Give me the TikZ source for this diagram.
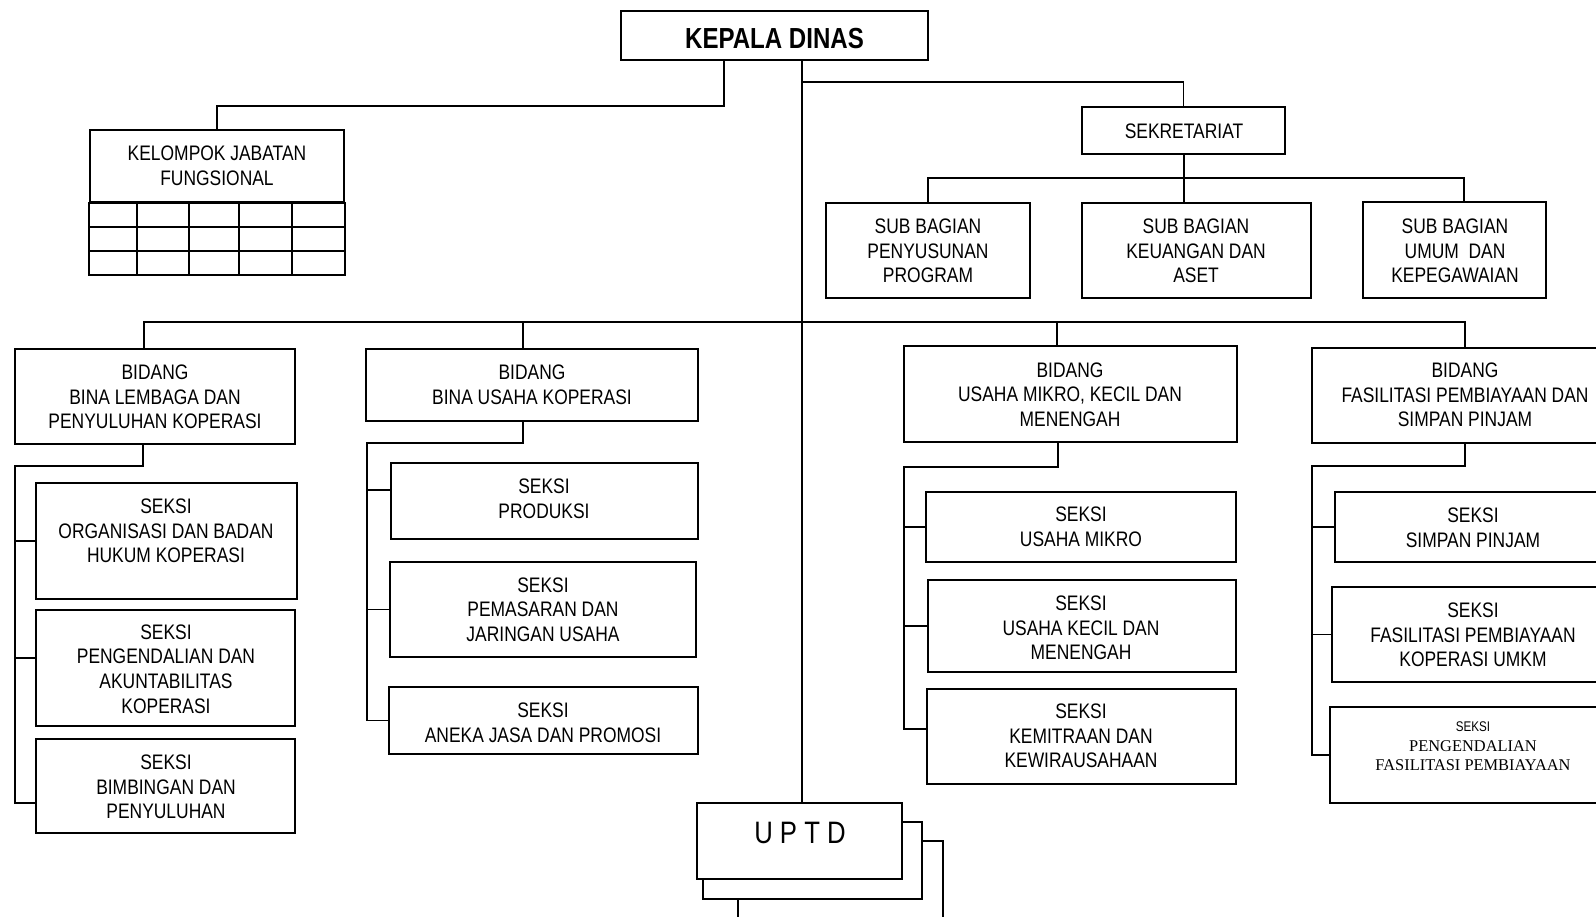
\documentclass[tikz,border=0pt]{standalone}
\usepackage{fontspec}
\setmainfont{Liberation Sans}[FakeStretch=0.83]
\newfontfamily\serfont{Liberation Serif}
% box given by its corners (x1,y1)-(x2,y2), y measured downwards
\newcommand\orgbox[5]{\node[box, minimum width={(#4-#2)*1pt}, minimum height={(#5-#3)*1pt}] (#1) at ({(#2+#4)/2},{(#3+#5)/2}) {};}
% text block centred at (x,y)
\newcommand\orgtext[4]{\node[lab] (#1) at (#2,#3) {#4};}
\begin{document}
\begin{tikzpicture}[x=1pt,y=-1pt,
  box/.style={draw, line width=1.8pt, fill=white, inner sep=0pt, rectangle},
  lab/.style={align=center, inner sep=0pt, font=\fontsize{21}{24.6}\selectfont},
  wire/.style={line width=1.8pt}]
\useasboundingbox (0,0) rectangle (1596,917);
\fill[white] (0,0) rectangle (1596,917);
\clip (0,0) rectangle (1596,917);

% ---------- boxes ----------
\orgbox{kd}{621}{11}{928}{60}
\orgbox{kjf}{90}{130}{344}{202}
\orgbox{sek}{1082}{107}{1285}{154}
\orgbox{sb1}{826}{203}{1030}{298}
\orgbox{sb2}{1082}{203}{1311}{298}
\orgbox{sb3}{1363}{202}{1546}{298}
\orgbox{b1}{15}{349}{295}{444}
\orgbox{b2}{366}{349}{698}{421}
\orgbox{b3}{904}{346}{1237}{442}
\orgbox{b4}{1312}{348}{1618}{443}
\orgbox{s11}{36}{483}{297}{599}
\orgbox{s12}{36}{610}{295}{726}
\orgbox{s13}{36}{739}{295}{833}
\orgbox{s21}{391}{463}{698}{539}
\orgbox{s22}{390}{562}{696}{657}
\orgbox{s23}{389}{687}{698}{754}
\orgbox{s31}{926}{492}{1236}{562}
\orgbox{s32}{928}{580}{1236}{672}
\orgbox{s33}{927}{689}{1236}{784}
\orgbox{s41}{1335}{492}{1614}{562}
\orgbox{s42}{1332}{587}{1614}{682}
\orgbox{s43}{1330}{707}{1614}{803}
% stacked UPTD boxes, back to front
\orgbox{up3}{738}{841}{943}{960}
\orgbox{up2}{703}{822}{922}{899}
\orgbox{uptd}{697}{803}{902}{879}

% grid under the functional group header
\draw[wire] (kjf.south west) rectangle ([yshift=-72]kjf.south east);
\foreach \d in {24,48}
  \draw[wire] ([yshift=-\d]kjf.south west) -- ([yshift=-\d]kjf.south east);
\foreach \d in {48,100,150,203}
  \draw[wire] ([xshift=\d]kjf.south west) -- ([xshift=\d,yshift=-72]kjf.south west);

% ---------- texts ----------
\node[inner sep=0pt, font=\bfseries\fontsize{29}{34}\selectfont] (kdt) at (774.5,38.5) {KEPALA DINAS};
\orgtext{kjft}{217}{165.5}{KELOMPOK JABATAN\\FUNGSIONAL}
\orgtext{sekt}{1184}{131}{SEKRETARIAT}
\orgtext{sb1t}{928}{251}{SUB BAGIAN\\PENYUSUNAN\\PROGRAM}
\orgtext{sb2t}{1196}{251}{SUB BAGIAN\\KEUANGAN DAN\\ASET}
\orgtext{sb3t}{1455}{251}{SUB BAGIAN\\UMUM\ \ DAN\\KEPEGAWAIAN}
\orgtext{b1t}{155}{397}{BIDANG\\BINA LEMBAGA DAN\\PENYULUHAN KOPERASI}
\orgtext{b2t}{532}{385}{BIDANG\\BINA USAHA KOPERASI}
\orgtext{b3t}{1070}{394.5}{BIDANG\\USAHA MIKRO, KECIL DAN\\MENENGAH}
\orgtext{b4t}{1465}{395}{BIDANG\\FASILITASI PEMBIAYAAN DAN\\SIMPAN PINJAM}
\orgtext{s11t}{166}{531}{SEKSI\\ORGANISASI DAN BADAN\\HUKUM KOPERASI}
\orgtext{s12t}{166}{669}{SEKSI\\PENGENDALIAN DAN\\AKUNTABILITAS\\KOPERASI}
\orgtext{s13t}{166}{787}{SEKSI\\BIMBINGAN DAN\\PENYULUHAN}
\orgtext{s21t}{544}{498.5}{SEKSI\\PRODUKSI}
\orgtext{s22t}{543}{609.5}{SEKSI\\PEMASARAN DAN\\JARINGAN USAHA}
\orgtext{s23t}{543}{723}{SEKSI\\ANEKA JASA DAN PROMOSI}
\orgtext{s31t}{1081}{527}{SEKSI\\USAHA MIKRO}
\orgtext{s32t}{1081}{628}{SEKSI\\USAHA KECIL DAN\\MENENGAH}
\orgtext{s33t}{1081}{736}{SEKSI\\KEMITRAAN DAN\\KEWIRAUSAHAAN}
\orgtext{s41t}{1473}{527.5}{SEKSI\\SIMPAN PINJAM}
\orgtext{s42t}{1473}{635}{SEKSI\\FASILITASI PEMBIAYAAN\\KOPERASI UMKM}
\node[inner sep=0pt, font=\fontsize{14}{17}\selectfont] (s43a) at (1473,727) {SEKSI};
\node[inner sep=0pt, align=center, font=\serfont\fontsize{16.4}{18.5}\selectfont] (s43b) at (1473,755.5) {PENGENDALIAN\\FASILITASI PEMBIAYAAN};
\node[inner sep=0pt, font=\fontsize{31}{36}\selectfont] (uptdt) at (800,833) {U\ P\ T\ D};

% ---------- connectors ----------
% head to functional group
\coordinate (jf) at (724,106);
\draw[wire] (kd.south -| jf) -- (jf) -| (kjf.north);
% main trunk down to UPTD
\coordinate (trk) at (802,82);
\draw[wire] (kd.south -| trk) -- (uptd.north -| trk);
% secretariat
\draw[wire] (trk) -| (sek.north);
\coordinate (js) at (1184,178);
\coordinate (d3) at ([xshift=9.5]sb3.north);
\draw[wire] (sek.south -| js) -- (sb2.north -| js);
\draw[wire] (sb1.north) |- (js) -| (d3);
% bar over the four divisions
\coordinate (jb) at (802,322);
\coordinate (db1) at ([xshift=-11]b1.north);
\coordinate (db2) at ([xshift=-9]b2.north);
\coordinate (db3) at ([xshift=-13.5]b3.north);
\draw[wire] (db1) |- (jb) -| (b4.north);
\draw[wire] (db2) -- (db2 |- jb);
\draw[wire] (db3) -- (db3 |- jb);

% division 1 sections
\coordinate (e1) at ([xshift=-12]b1.south);
\coordinate (k1) at (15,466);
\coordinate (t12) at ([yshift=10]s12.west);
\coordinate (t13) at ([yshift=-17]s13.west);
\draw[wire] (e1) |- (k1) |- (t13);
\draw[wire] (k1 |- s11.west) -- (s11.west);
\draw[wire] (k1 |- t12) -- (t12);
% division 2 sections
\coordinate (e2) at ([xshift=-9]b2.south);
\coordinate (k2) at (367,443);
\coordinate (t21) at ([yshift=11]s21.west);
\draw[wire] (e2) |- (k2) |- (s23.west);
\draw[wire] (k2 |- t21) -- (t21);
\draw[wire] (k2 |- s22.west) -- (s22.west);
% division 3 sections
\coordinate (e3) at ([xshift=-12.5]b3.south);
\coordinate (k3) at (904,467);
\coordinate (t33) at ([yshift=7.5]s33.west);
\draw[wire] (e3) |- (k3) |- (t33);
\draw[wire] (k3 |- s31.west) -- (s31.west);
\draw[wire] (k3 |- s32.west) -- (s32.west);
% division 4 sections
\coordinate (k4) at (1312,466);
\draw[wire] (b4.south) |- (k4) |- (s43.west);
\draw[wire] (k4 |- s41.west) -- (s41.west);
\draw[wire] (k4 |- s42.west) -- (s42.west);
\end{tikzpicture}
\end{document}
